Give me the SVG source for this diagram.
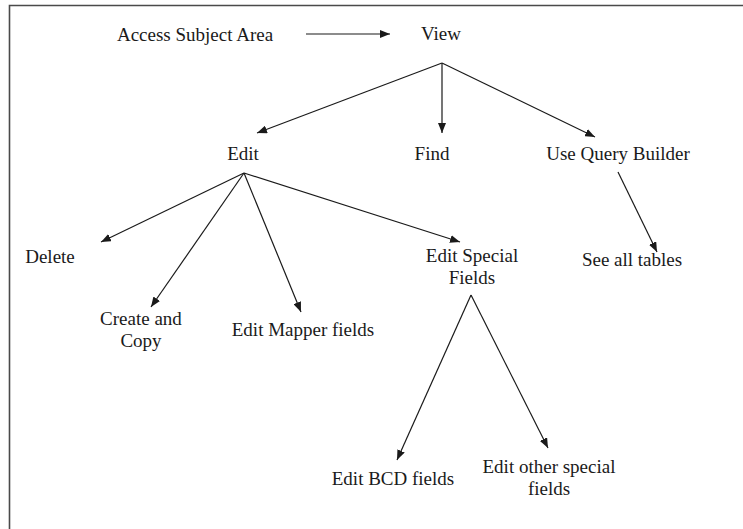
<svg xmlns="http://www.w3.org/2000/svg" width="743" height="529" viewBox="0 0 743 529">
<style>
text{font-family:"Liberation Serif","Times New Roman",serif;font-size:19px;fill:#1a1a1a;text-anchor:middle}
.e{stroke:#1a1a1a;stroke-width:1.2;fill:none;marker-end:url(#ah)}
</style>
<defs>
<marker id="ah" viewBox="0 0 10 8" refX="10" refY="4" markerWidth="10" markerHeight="8" markerUnits="userSpaceOnUse" orient="auto">
<path d="M0,0 L10,4 L0,8 z" fill="#1a1a1a"/>
</marker>
</defs>
<rect width="743" height="529" fill="#fff"/>
<path d="M9.5,529 V5.5 H743" fill="none" stroke="#4a4a4a" stroke-width="1.6"/>
<g id="n-access"><text x="195" y="41">Access Subject Area</text></g>
<g id="n-view"><text x="441" y="40">View</text></g>
<g id="n-edit"><text x="243" y="160">Edit</text></g>
<g id="n-find"><text x="432" y="160">Find</text></g>
<g id="n-uqb"><text x="618" y="160">Use Query Builder</text></g>
<g id="n-delete"><text x="50" y="263">Delete</text></g>
<g id="n-special"><text x="472" y="262">Edit Special</text><text x="472" y="284">Fields</text></g>
<g id="n-tables"><text x="632" y="266">See all tables</text></g>
<g id="n-create"><text x="141" y="325">Create and</text><text x="141" y="347">Copy</text></g>
<g id="n-mapper"><text x="303" y="336">Edit Mapper fields</text></g>
<g id="n-bcd"><text x="393" y="485">Edit BCD fields</text></g>
<g id="n-other"><text x="549" y="473">Edit other special</text><text x="549" y="495">fields</text></g>
<g id="connectors">
<line class="e" x1="306" y1="34" x2="390" y2="34"/>
<line class="e" x1="442" y1="63" x2="257" y2="133"/>
<line class="e" x1="442" y1="63" x2="442" y2="133"/>
<line class="e" x1="442" y1="63" x2="595" y2="137"/>
<line class="e" x1="244" y1="173" x2="101" y2="242"/>
<line class="e" x1="244" y1="173" x2="151" y2="307"/>
<line class="e" x1="244" y1="173" x2="301" y2="312"/>
<line class="e" x1="244" y1="173" x2="460" y2="242"/>
<line class="e" x1="618" y1="172" x2="657" y2="252"/>
<line class="e" x1="471" y1="295" x2="397" y2="460"/>
<line class="e" x1="471" y1="295" x2="548" y2="448"/>
</g>
</svg>
